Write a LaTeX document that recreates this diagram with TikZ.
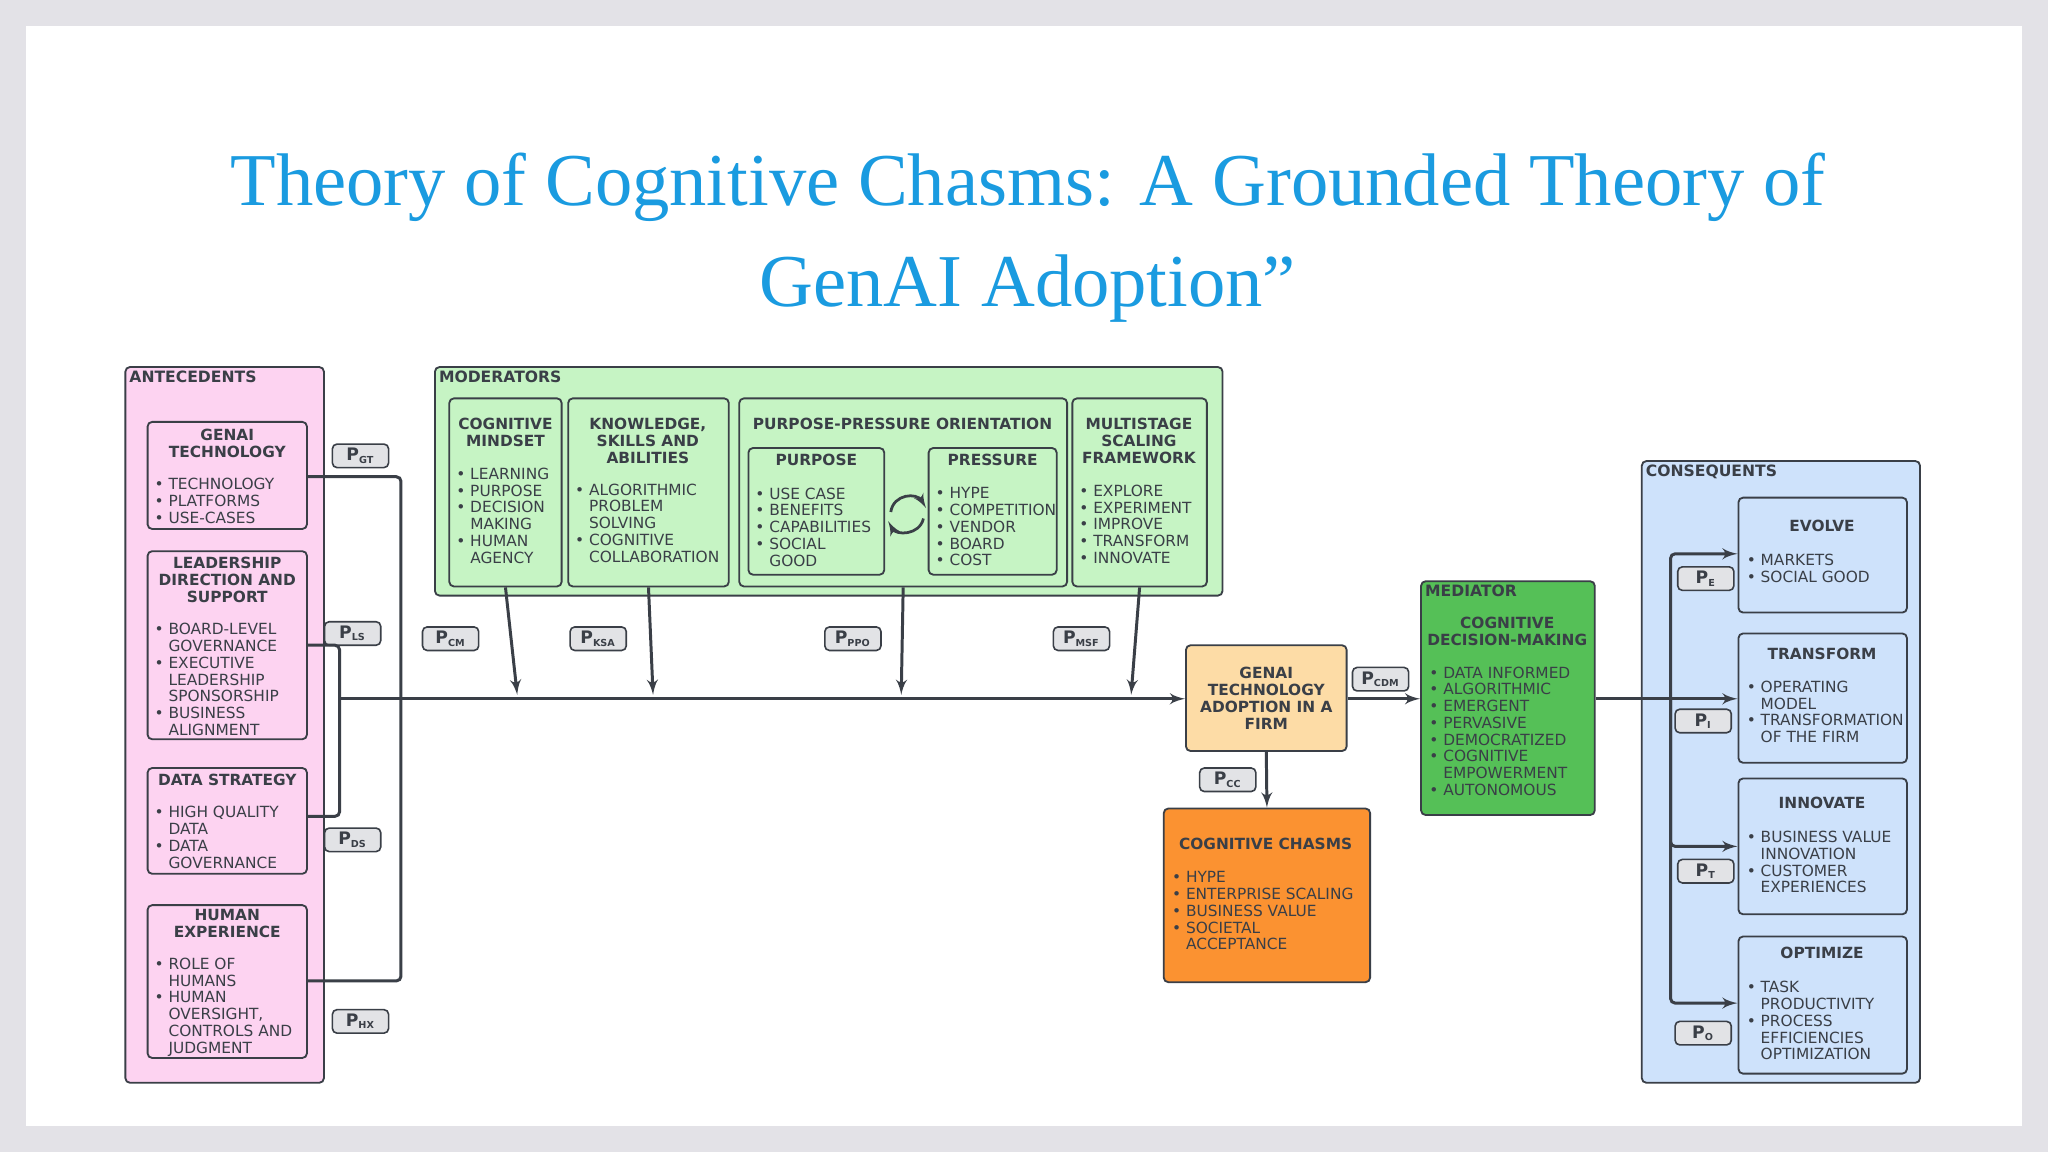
\documentclass[tikz,border=0pt]{standalone}
\usepackage{fontspec}
\setmainfont{DejaVu Sans}
\newfontfamily\titlefont{Liberation Serif}
\usetikzlibrary{arrows,fit}
\definecolor{bgc}{HTML}{E3E2E7}
\definecolor{ttl}{HTML}{1A9BE0}
\definecolor{ink}{HTML}{3A3F47}
\definecolor{antc}{HTML}{FDD3F1}
\definecolor{modc}{HTML}{C6F4C4}
\definecolor{medc}{HTML}{55C057}
\definecolor{adoc}{HTML}{FDDCA6}
\definecolor{chac}{HTML}{FB9231}
\definecolor{conc}{HTML}{CEE2FB}
\definecolor{pbox}{HTML}{E2E3E6}
\newcommand{\bul}{\textbullet\ }
\newcommand{\ind}{\phantom{\textbullet\ }}
\newcommand{\sP}[1]{P\textsubscript{\scalebox{0.8}{#1}}}
\begin{document}
\begin{tikzpicture}[x=0.02cm,y=-0.02cm,>=latex']
  \tikzstyle{group}=[draw=ink,line width=0.8pt,rounded corners=2pt,inner sep=0pt]
  \tikzstyle{box}=[draw=ink,line width=0.8pt,rounded corners=2pt,inner sep=0pt]
  \tikzstyle{head}=[font=\fontsize{6.7}{7.35}\selectfont\bfseries,text=ink,align=center,anchor=north,inner sep=0pt]
  \tikzstyle{items}=[font=\fontsize{6.7}{7.3}\selectfont,text=ink,align=left,anchor=north west,inner sep=0pt]
  \tikzstyle{tag}=[font=\fontsize{6.8}{7.6}\selectfont\bfseries,text=ink,anchor=north west,inner sep=1pt]
  \tikzstyle{plabel}=[draw=ink,fill=pbox,rounded corners=2pt,line width=0.7pt,minimum width=0.86cm,minimum height=0.36cm,inner sep=0pt,font=\fontsize{7.5}{8}\selectfont\bfseries,text=ink]
  \tikzstyle{link}=[draw=ink,line width=1.3pt,rounded corners=2pt]
  \useasboundingbox (0,0) rectangle (1568,882);
  \fill[bgc] (0,0) rectangle (1568,882);
  \fill[white] (20,20) rectangle (1548,862);

  % title
  \node[font=\titlefont\fontsize{32.5}{44}\selectfont,text=ttl,align=center] (title) at (787,182)
    {Theory of Cognitive Chasms: A Grounded Theory of\\GenAI Adoption”};

  % antecedents
  \node[group,fill=antc,fit={(96,281) (248,829)}] (ante) {};
  \node[tag] at (97,282) {ANTECEDENTS};
  \node[box,fit={(113,323) (235,405)}] (gt) {};
  \node[head] at (174,328) {GENAI\\TECHNOLOGY};
  \node[items] at (118,366) {\bul TECHNOLOGY\\\bul PLATFORMS\\\bul USE-CASES};
  \node[box,fit={(113,422) (235,566)}] (ls) {};
  \node[head] at (174,426) {LEADERSHIP\\DIRECTION AND\\SUPPORT};
  \node[items] at (118,477) {\bul BOARD-LEVEL\\\ind GOVERNANCE\\\bul EXECUTIVE\\\ind LEADERSHIP\\\ind SPONSORSHIP\\\bul BUSINESS\\\ind ALIGNMENT};
  \node[box,fit={(113,588) (235,669)}] (ds) {};
  \node[head] at (174,592) {DATA STRATEGY};
  \node[items] at (118,617) {\bul HIGH QUALITY\\\ind DATA\\\bul DATA\\\ind GOVERNANCE};
  \node[box,fit={(113,693) (235,810)}] (hx) {};
  \node[head] at (174,696) {HUMAN\\EXPERIENCE};
  \node[items] at (118,733) {\bul ROLE OF\\\ind HUMANS\\\bul HUMAN\\\ind OVERSIGHT,\\\ind CONTROLS AND\\\ind JUDGMENT};

  % moderators
  \node[group,fill=modc,fit={(333,281) (936,456)}] (mod) {};
  \node[tag] at (334,282) {MODERATORS};
  \node[box,fit={(344,305) (430,449)}] (cm) {};
  \node[head] at (387,320) {COGNITIVE\\MINDSET};
  \node[items] at (349,358) {\bul LEARNING\\\bul PURPOSE\\\bul DECISION\\\ind MAKING\\\bul HUMAN\\\ind AGENCY};
  \node[box,fit={(435,305) (558,449)}] (ksa) {};
  \node[head] at (496,320) {KNOWLEDGE,\\SKILLS AND\\ABILITIES};
  \node[items] at (440,370) {\bul ALGORITHMIC\\\ind PROBLEM\\\ind SOLVING\\\bul COGNITIVE\\\ind COLLABORATION};
  \node[box,fit={(566,305) (817,449)}] (ppo) {};
  \node[head] at (691,320) {PURPOSE-PRESSURE ORIENTATION};
  \node[box,fit={(573,343) (677,440)}] (pur) {};
  \node[head] at (625,347) {PURPOSE};
  \node[items] at (578,373) {\bul USE CASE\\\bul BENEFITS\\\bul CAPABILITIES\\\bul SOCIAL\\\ind GOOD};
  \node[box,fit={(711,343) (809,440)}] (pre) {};
  \node[head] at (760,347) {PRESSURE};
  \node[items] at (716,373) {\bul HYPE\\\bul COMPETITION\\\bul VENDOR\\\bul BOARD\\\bul COST};
  \draw[ink,line width=1.2pt,->] (682,392) .. controls (684,378) and (702,377) .. (709,389);
  \draw[ink,line width=1.2pt,->] (707,397) .. controls (704,410) and (686,410) .. (680,399);
  \node[box,fit={(821,305) (924,449)}] (msf) {};
  \node[head] at (872,320) {MULTISTAGE\\SCALING\\FRAMEWORK};
  \node[items] at (826,371) {\bul EXPLORE\\\bul EXPERIMENT\\\bul IMPROVE\\\bul TRANSFORM\\\bul INNOVATE};

  % core
  \node[box,fill=adoc,fit={(908,494) (1031,575)}] (adopt) {};
  \node[head,anchor=center] at (adopt.center) {GENAI\\TECHNOLOGY\\ADOPTION IN A\\FIRM};
  \node[box,fill=medc,fit={(1088,445) (1221,624)}] (med) {};
  \node[tag] at (1089,446) {MEDIATOR};
  \node[head] at (1154,472) {COGNITIVE\\DECISION-MAKING};
  \node[items] at (1094,510) {\bul DATA INFORMED\\\bul ALGORITHMIC\\\bul EMERGENT\\\bul PERVASIVE\\\bul DEMOCRATIZED\\\bul COGNITIVE\\\ind EMPOWERMENT\\\bul AUTONOMOUS};
  \node[box,fill=chac,fit={(891,619) (1049,752)}] (chasm) {};
  \node[head] at (969,641) {COGNITIVE CHASMS};
  \node[items] at (897,667) {\bul HYPE\\\bul ENTERPRISE SCALING\\\bul BUSINESS VALUE\\\bul SOCIETAL\\\ind ACCEPTANCE};

  % consequents
  \node[group,fill=conc,fit={(1257,353) (1470,829)}] (cons) {};
  \node[tag] at (1258,354) {CONSEQUENTS};
  \node[box,fit={(1331,381) (1460,469)}] (evo) {};
  \node[head] at (1395,398) {EVOLVE};
  \node[items] at (1337,424) {\bul MARKETS\\\bul SOCIAL GOOD};
  \node[box,fit={(1331,485) (1460,584)}] (tra) {};
  \node[head] at (1395,496) {TRANSFORM};
  \node[items] at (1337,521) {\bul OPERATING\\\ind MODEL\\\bul TRANSFORMATION\\\ind OF THE FIRM};
  \node[box,fit={(1331,596) (1460,700)}] (inn) {};
  \node[head] at (1395,610) {INNOVATE};
  \node[items] at (1337,636) {\bul BUSINESS VALUE\\\ind INNOVATION\\\bul CUSTOMER\\\ind EXPERIENCES};
  \node[box,fit={(1331,717) (1460,822)}] (opt) {};
  \node[head] at (1395,725) {OPTIMIZE};
  \node[items] at (1337,751) {\bul TASK\\\ind PRODUCTIVITY\\\bul PROCESS\\\ind EFFICIENCIES\\\ind OPTIMIZATION};

  % proposition labels
  \node[plabel] (pgt) at (276,349) {\sP{GT}};
  \node[plabel] (pls) at (270,485) {\sP{LS}};
  \node[plabel] (pds) at (270,643) {\sP{DS}};
  \node[plabel] (phx) at (276,782) {\sP{HX}};
  \node[plabel] (pcm) at (345,489) {\sP{CM}};
  \node[plabel] (pksa) at (458,489) {\sP{KSA}};
  \node[plabel] (pppo) at (653,489) {\sP{PPO}};
  \node[plabel] (pmsf) at (828,489) {\sP{MSF}};
  \node[plabel] (pcdm) at (1057,520) {\sP{CDM}};
  \node[plabel] (pcc) at (940,597) {\sP{CC}};
  \node[plabel] (pe) at (1306,443) {\sP{E}};
  \node[plabel] (pi) at (1304,552) {\sP{I}};
  \node[plabel] (pt) at (1306,667) {\sP{T}};
  \node[plabel] (po) at (1304,791) {\sP{O}};

  % connectors
  \coordinate (busA) at (260,535);
  \coordinate (busB) at (1279,535);
  \draw[link] (gt.east |- 0,365) -| (307,751) -- (hx.east |- 0,751);
  \draw[link] (ls.east |- 0,494) -| (260,625) -- (ds.east |- 0,625);
  \draw[link,->] (busA) -- (adopt.west |- busA);
  \draw[link,->] (cm.south) -- (396,532);
  \draw[link,->] (ksa.south) -- (500,532);
  \draw[link,->] (ppo.south) -- (690,532);
  \draw[link,->] (msf.south) -- (866,532);
  \draw[link,->] (adopt.east |- busA) -- (med.west |- busA);
  \draw[link,->] (adopt.south) -- (chasm.north);
  \draw[link] (med.east |- busB) -- (busB);
  \draw[link,->] (busB) -- (tra.west |- busB);
  \draw[link,->] (busB) |- (evo.west |- 0,424);
  \draw[link,->] (busB) |- (inn.west |- 0,648);
  \draw[link,->] (busB) |- (opt.west |- 0,768);
\end{tikzpicture}
\end{document}
